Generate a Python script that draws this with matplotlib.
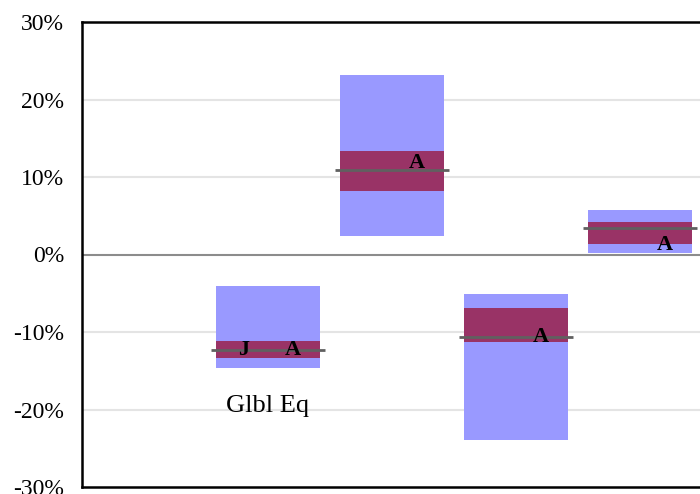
import numpy as np
import matplotlib.pyplot as plt

plt.rcParams['font.family'] = ['Liberation Serif', 'DejaVu Serif']

# data (fractions)
positions = [1, 2, 3, 4]
range_low = [-0.146, 0.024, -0.239, 0.0015]
range_high = [-0.041, 0.232, -0.051, 0.057]
core_low = [-0.133, 0.082, -0.113, 0.014]
core_high = [-0.112, 0.134, -0.069, 0.042]
mid_values = [-0.123, 0.109, -0.107, 0.034]
a_values = [-0.123, 0.118, -0.106, 0.012]
j_values = [-0.123, None, None, None]
cat_label = 'Glbl Eq'
cat_label_y = -0.195

fig = plt.figure(figsize=(7, 4.94), dpi=100)
ax = fig.add_axes([82 / 700, 7 / 494, 1 - 82 / 700, 465 / 494])

ax.set_ylim(-0.3, 0.3)
ax.set_xlim(-0.5, (700 - 82) / 124 - 0.5)
yt = np.arange(-0.3, 0.31, 0.1)
ax.set_yticks(yt)
ax.set_yticklabels(['{:.0f}%'.format(v * 100) for v in yt], fontsize=17)
ax.set_xticks([])
ax.tick_params(axis='y', length=0, pad=13)

for v in yt[1:-1]:
    if abs(v) < 1e-9:
        continue
    ax.axhline(v, color='#e4e4e4', lw=1.5, zorder=0)
ax.axhline(0, color='#8c8c8c', lw=1.5, zorder=1)

for s in ('left', 'bottom', 'top'):
    ax.spines[s].set_linewidth(1.8)
ax.spines['right'].set_visible(False)

w = 104 / 124
for i, x in enumerate(positions):
    ax.bar(x, range_high[i] - range_low[i], bottom=range_low[i], width=w,
           color='#9999ff', zorder=2)
    ax.bar(x, core_high[i] - core_low[i], bottom=core_low[i], width=w,
           color='#993366', zorder=3)
    ax.plot([x - 0.46, x + 0.46], [mid_values[i]] * 2, color='#606060',
            lw=2, zorder=4, solid_capstyle='butt')
    ax.text(x + 0.2, a_values[i], 'A', fontsize=16, fontweight='bold',
            ha='center', va='center', zorder=5)
    if j_values[i] is not None:
        ax.text(x - 0.2, j_values[i], 'J', fontsize=16, fontweight='bold',
                ha='center', va='center', zorder=5)

ax.text(positions[0], cat_label_y, cat_label, fontsize=19,
        ha='center', va='center', zorder=5)

fig.savefig('out.png', dpi=100)
